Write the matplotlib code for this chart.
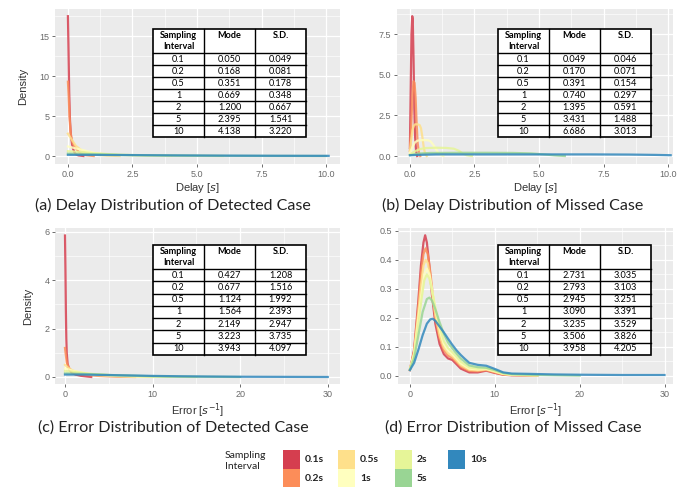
import matplotlib
matplotlib.use("Agg")
import matplotlib.pyplot as plt
from matplotlib.patches import Rectangle
from matplotlib.ticker import MultipleLocator

W, H = 678, 487

intervals = ["0.1s", "0.2s", "0.5s", "1s", "2s", "5s", "10s"]
colors = ["#D53E4F", "#FC8D59", "#FEE08B", "#FFFFBF", "#E6F598", "#99D594", "#3288BD"]
table_intervals = ["0.1", "0.2", "0.5", "1", "2", "5", "10"]

# (x, density) points for each sampling interval, one list per panel
delay_detected = [
    ([0, 0.02, 0.05, 0.08, 0.12, 0.16, 0.2, 0.25, 0.3, 0.4, 0.6],
     [17.5, 14, 8, 4.5, 2.5, 1.5, 0.9, 0.5, 0.25, 0.08, 0.0]),
    ([0, 0.03, 0.06, 0.1, 0.15, 0.2, 0.3, 0.4, 0.5, 0.7, 1.0],
     [9.3, 7.5, 5.0, 3.0, 2.0, 1.5, 1.0, 0.6, 0.3, 0.1, 0.0]),
    ([0, 0.1, 0.2, 0.3, 0.45, 0.6, 0.8, 1.0, 1.5, 2.0],
     [2.8, 2.3, 1.8, 1.3, 0.9, 0.55, 0.3, 0.18, 0.05, 0.0]),
    ([0, 0.25, 0.5, 0.75, 1.0, 1.5, 2.0, 3.0, 4.0],
     [1.2, 1.0, 0.8, 0.6, 0.4, 0.2, 0.1, 0.03, 0.0]),
    ([0, 0.5, 1, 1.5, 2, 3, 4, 5, 6],
     [0.6, 0.5, 0.35, 0.25, 0.15, 0.07, 0.04, 0.02, 0.0]),
    ([0, 1, 2, 3, 4, 6, 8, 10],
     [0.3, 0.22, 0.15, 0.1, 0.06, 0.02, 0.01, 0.0]),
    ([0, 1, 2, 4, 6, 8, 10.1],
     [0.15, 0.14, 0.12, 0.08, 0.05, 0.03, 0.02]),
]

delay_missed = [
    ([0, 0.03, 0.06, 0.09, 0.11, 0.14, 0.17, 0.2, 0.24, 0.28],
     [0.5, 4.0, 7.5, 8.6, 8.4, 6.0, 3.0, 1.2, 0.3, 0.0]),
    ([0, 0.05, 0.1, 0.14, 0.18, 0.22, 0.26, 0.3, 0.35, 0.4],
     [0.3, 1.8, 3.8, 4.6, 4.5, 3.6, 2.0, 0.8, 0.2, 0.0]),
    ([0, 0.05, 0.1, 0.15, 0.2, 0.3, 0.38, 0.43, 0.48, 0.53, 0.58, 0.65],
     [0.3, 1.0, 1.6, 1.85, 1.95, 1.95, 1.9, 1.7, 1.2, 0.6, 0.2, 0.0]),
    ([0, 0.1, 0.2, 0.3, 0.5, 0.7, 0.8, 0.9, 1.0, 1.1, 1.2, 1.3],
     [0.2, 0.55, 0.85, 0.95, 0.98, 0.97, 0.9, 0.7, 0.45, 0.2, 0.05, 0.0]),
    ([0, 0.2, 0.4, 0.6, 1.0, 1.4, 1.7, 1.9, 2.05, 2.2, 2.4],
     [0.1, 0.3, 0.43, 0.49, 0.51, 0.5, 0.45, 0.32, 0.15, 0.05, 0.0]),
    ([0, 0.3, 0.8, 2, 3, 4, 4.7, 5.2, 5.6, 6.0],
     [0.05, 0.15, 0.19, 0.2, 0.2, 0.19, 0.16, 0.1, 0.04, 0.0]),
    ([0, 0.5, 1, 3, 5, 7, 8.5, 9.5, 10.1],
     [0.05, 0.08, 0.1, 0.1, 0.1, 0.1, 0.09, 0.07, 0.05]),
]

error_detected = [
    ([0, 0.05, 0.1, 0.15, 0.2, 0.3, 0.5, 0.8, 1.2, 1.8, 2.5, 3.0],
     [5.85, 4.5, 2.8, 1.6, 1.0, 0.55, 0.3, 0.17, 0.1, 0.05, 0.02, 0.0]),
    ([0, 0.1, 0.2, 0.4, 0.7, 1.0, 1.5, 2.5, 4, 6, 8],
     [1.2, 0.9, 0.6, 0.4, 0.28, 0.2, 0.14, 0.09, 0.04, 0.01, 0.0]),
    ([0, 0.3, 0.6, 1, 1.5, 2, 3, 4, 6, 8, 10],
     [0.5, 0.4, 0.32, 0.25, 0.2, 0.16, 0.1, 0.07, 0.03, 0.01, 0.0]),
    ([0, 0.5, 1, 2, 3, 4, 6, 8, 10, 12],
     [0.35, 0.3, 0.25, 0.18, 0.12, 0.09, 0.05, 0.02, 0.01, 0.0]),
    ([0, 1, 2, 3, 5, 7, 9, 12, 15],
     [0.25, 0.21, 0.17, 0.13, 0.08, 0.05, 0.03, 0.01, 0.0]),
    ([0, 2, 4, 6, 8, 10, 13, 16, 20],
     [0.15, 0.13, 0.1, 0.07, 0.05, 0.03, 0.015, 0.008, 0.0]),
    ([0, 2, 5, 8, 10, 13, 16, 20, 25, 30],
     [0.1, 0.1, 0.08, 0.06, 0.045, 0.03, 0.02, 0.01, 0.005, 0.0]),
]

err_x_a = [0, 0.5, 1.0, 1.3, 1.6, 1.8, 2.0, 2.3, 2.6, 3.0, 3.5, 4.0, 4.5, 5.0,
           5.5, 6.0, 7.0, 8.0, 9.0, 10.0, 11.0, 12.0, 15.0]
err_x_b = [0, 0.5, 1.0, 1.3, 1.6, 1.85, 2.1, 2.4, 2.7, 3.0, 3.5, 4.0, 4.5, 5.0,
           5.5, 6.0, 7.0, 8.0, 9.0, 10.0, 11.0, 12.0, 15.0]
err_x_c = [0, 0.5, 1.0, 1.4, 1.7, 2.0, 2.3, 2.6, 2.9, 3.2, 3.6, 4.0, 4.5, 5.0,
           5.5, 6.0, 7.0, 8.0, 9.0, 10.0, 11.0, 12.0, 15.0]
error_missed = [
    (err_x_a, [0.02, 0.09, 0.26, 0.38, 0.46, 0.485, 0.46, 0.38, 0.28, 0.18, 0.11, 0.075,
               0.06, 0.055, 0.04, 0.025, 0.012, 0.012, 0.018, 0.01, 0.004, 0.002, 0.001]),
    (err_x_b, [0.02, 0.085, 0.24, 0.35, 0.42, 0.44, 0.42, 0.36, 0.28, 0.2, 0.13, 0.088,
               0.07, 0.062, 0.047, 0.032, 0.017, 0.016, 0.02, 0.012, 0.005, 0.003, 0.001]),
    (err_x_b, [0.022, 0.08, 0.22, 0.31, 0.38, 0.40, 0.39, 0.34, 0.27, 0.21, 0.14, 0.098,
               0.078, 0.068, 0.053, 0.037, 0.021, 0.019, 0.022, 0.014, 0.006, 0.003, 0.001]),
    (err_x_c, [0.022, 0.075, 0.2, 0.29, 0.35, 0.37, 0.35, 0.3, 0.25, 0.2, 0.15, 0.11,
               0.088, 0.075, 0.06, 0.043, 0.025, 0.022, 0.024, 0.016, 0.007, 0.004, 0.002]),
    (err_x_c, [0.022, 0.07, 0.18, 0.27, 0.33, 0.35, 0.335, 0.295, 0.25, 0.205, 0.16, 0.12,
               0.096, 0.082, 0.066, 0.049, 0.029, 0.025, 0.026, 0.018, 0.008, 0.005, 0.002]),
    ([0, 0.5, 1.0, 1.5, 2.0, 2.3, 2.6, 3.0, 3.5, 4.0, 4.5, 5.0, 5.5, 6.0, 7.0, 8.0,
      9.0, 10.0, 11.0, 12.0, 15.0, 20.0],
     [0.022, 0.06, 0.14, 0.22, 0.265, 0.27, 0.26, 0.23, 0.185, 0.145, 0.115, 0.095,
      0.077, 0.06, 0.036, 0.03, 0.028, 0.02, 0.01, 0.006, 0.003, 0.001]),
    ([0, 0.5, 1.0, 1.5, 2.0, 2.4, 2.7, 3.0, 3.5, 4.0, 4.5, 5.0, 5.5, 6.0, 6.5, 7.0,
      8.0, 9.0, 10.0, 11.0, 12.0, 14.0, 17.0, 20.0, 25.0, 30.0],
     [0.02, 0.045, 0.09, 0.14, 0.18, 0.195, 0.197, 0.19, 0.17, 0.15, 0.128, 0.107,
      0.088, 0.072, 0.058, 0.045, 0.038, 0.035, 0.024, 0.012, 0.008, 0.007, 0.005,
      0.004, 0.003, 0.003]),
]

# mode / standard deviation tables
delay_det_mode = ["0.050", "0.168", "0.351", "0.669", "1.200", "2.395", "4.138"]
delay_det_sd = ["0.049", "0.081", "0.178", "0.348", "0.667", "1.541", "3.220"]
delay_mis_mode = ["0.049", "0.170", "0.391", "0.740", "1.395", "3.431", "6.686"]
delay_mis_sd = ["0.046", "0.071", "0.154", "0.297", "0.591", "1.488", "3.013"]
error_det_mode = ["0.427", "0.677", "1.124", "1.564", "2.149", "3.223", "3.943"]
error_det_sd = ["1.208", "1.516", "1.992", "2.393", "2.947", "3.735", "4.097"]
error_mis_mode = ["2.731", "2.793", "2.945", "3.090", "3.235", "3.506", "3.958"]
error_mis_sd = ["3.035", "3.103", "3.251", "3.391", "3.529", "3.826", "4.205"]

fig = plt.figure(figsize=(W / 100, H / 100), dpi=100)


def px_axes(left, top, right, bottom, **kw):
    return fig.add_axes([left / W, 1 - bottom / H, (right - left) / W, (bottom - top) / H], **kw)


def density_panel(box, curves, xlim, ylim, xmaj, ymaj, xlabel, ylabel):
    ax = px_axes(*box)
    ax.set_facecolor("#EBEBEB")
    for s in ax.spines.values():
        s.set_visible(False)
    ax.set_xlim(*xlim)
    ax.set_ylim(*ylim)
    ax.xaxis.set_major_locator(MultipleLocator(xmaj))
    ax.xaxis.set_minor_locator(MultipleLocator(xmaj / 2))
    ax.yaxis.set_major_locator(MultipleLocator(ymaj))
    ax.yaxis.set_minor_locator(MultipleLocator(ymaj / 2))
    ax.grid(which="major", color="white", lw=0.9)
    ax.grid(which="minor", color="white", lw=0.45)
    ax.set_axisbelow(True)
    ax.tick_params(which="major", length=2.5, width=0.6, color="#555555",
                   labelsize=6.5, labelcolor="#6A6A6A", pad=1.5)
    ax.tick_params(which="minor", length=0)
    for (xs, ys), c in zip(curves, colors):
        ax.plot(xs, ys, color=c, lw=1.6, alpha=0.85, solid_joinstyle="round")
    ax.set_xlabel(xlabel, fontsize=8, color="#333333", labelpad=2)
    if ylabel:
        ax.set_ylabel(ylabel, fontsize=8, color="#333333", labelpad=8)
    return ax


plt.rcParams["font.family"] = ["Liberation Sans", "DejaVu Sans"]

ax_a = density_panel((55, 9, 340, 164), delay_detected, (-0.5, 10.54), (-1.0, 18.4),
                     2.5, 5, "Delay [$s$]", "Density")
ax_a.xaxis.set_major_formatter(lambda v, p: f"{v:.1f}")
ax_a.yaxis.set_major_formatter(lambda v, p: f"{v:.0f}")

ax_b = density_panel((397, 9, 673, 164), delay_missed, (-0.5, 10.19), (-0.49, 9.04),
                     2.5, 2.5, "Delay [$s$]", None)
ax_b.xaxis.set_major_formatter(lambda v, p: f"{v:.1f}")
ax_b.yaxis.set_major_formatter(lambda v, p: f"{v:.1f}")

ax_c = density_panel((55, 228, 340, 384), error_detected, (-1.14, 31.4), (-0.29, 6.16),
                     10, 2, "Error [$s^{-1}$]", "Density")
ax_c.xaxis.set_major_formatter(lambda v, p: f"{v:.0f}")
ax_c.yaxis.set_major_formatter(lambda v, p: f"{v:.0f}")

ax_d = density_panel((398, 228, 673, 384), error_missed, (-1.4, 31.0), (-0.028, 0.51),
                     10, 0.1, "Error [$s^{-1}$]", None)
ax_d.xaxis.set_major_formatter(lambda v, p: f"{v:.0f}")
ax_d.yaxis.set_major_formatter(lambda v, p: f"{v:.1f}")

# overlay in pixel coordinates for tables, captions and legend
ov = fig.add_axes([0, 0, 1, 1], zorder=10)
ov.set_xlim(0, W)
ov.set_ylim(H, 0)
ov.axis("off")
ov.patch.set_alpha(0)

tfont = ["Lato", "DejaVu Sans"]


def draw_table(x0, y0, x1, y1, header_h, modes, sds):
    ov.add_patch(Rectangle((x0, y0), x1 - x0, y1 - y0, facecolor="white",
                           edgecolor="black", lw=1.2))
    cw = (x1 - x0) / 3
    rh = (y1 - y0 - header_h) / 7
    for k in (1, 2):
        ov.plot([x0 + k * cw] * 2, [y0, y1], color="black", lw=1.0)
    for r in range(7):
        y = y0 + header_h + r * rh
        ov.plot([x0, x1], [y, y], color="black", lw=1.0)
    ov.text(x0 + cw / 2, y0 + 2, "Sampling\nInterval", ha="center", va="top",
            fontsize=6.6, fontweight="bold", family=tfont, linespacing=1.3)
    ov.text(x0 + 1.5 * cw, y0 + 2, "Mode", ha="center", va="top",
            fontsize=6.6, fontweight="bold", family=tfont)
    ov.text(x0 + 2.5 * cw, y0 + 2, "S.D.", ha="center", va="top",
            fontsize=6.6, fontweight="bold", family=tfont)
    for r, (lab, m, s) in enumerate(zip(table_intervals, modes, sds)):
        yc = y0 + header_h + (r + 0.5) * rh
        for k, t in enumerate((lab, m, s)):
            ov.text(x0 + (k + 0.5) * cw, yc, t, ha="center", va="center",
                    fontsize=6.6, family=tfont)


draw_table(153, 29, 306, 137, 24, delay_det_mode, delay_det_sd)
draw_table(498, 29, 651, 137, 24, delay_mis_mode, delay_mis_sd)
draw_table(153, 245, 306, 355, 24, error_det_mode, error_det_sd)
draw_table(498, 245, 651, 355, 24, error_mis_mode, error_mis_sd)

captions = [
    (173, 205, "(a) Delay Distribution of Detected Case"),
    (513, 205, "(b) Delay Distribution of Missed Case"),
    (173, 428, "(c) Error Distribution of Detected Case"),
    (513, 428, "(d) Error Distribution of Missed Case"),
]
for cx, cy, t in captions:
    ov.text(cx, cy, t, ha="center", va="center", fontsize=11.5, family=tfont,
            color="#222222")

# legend
ov.text(225, 461, "Sampling\nInterval", ha="left", va="center", fontsize=7.5,
        family=tfont, color="#222222", linespacing=1.3)
swatch_x = [283, 283, 338, 338, 395, 395, 448]
swatch_y = [450, 469, 450, 469, 450, 469, 450]
for sx, sy, c, lab in zip(swatch_x, swatch_y, colors, intervals):
    ov.add_patch(Rectangle((sx, sy), 17, 19, facecolor=c, edgecolor="none"))
    ov.text(sx + 22, sy + 9.5, lab, ha="left", va="center", fontsize=7.5,
            fontweight="bold", family=tfont, color="#222222")

fig.savefig("out.png", dpi=100)
